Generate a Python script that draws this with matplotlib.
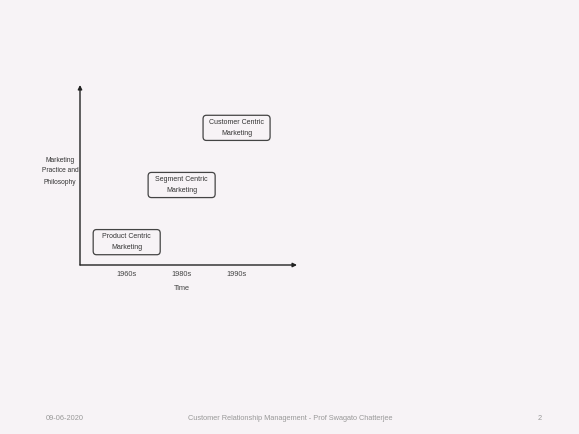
import matplotlib.pyplot as plt
from matplotlib.patches import FancyBboxPatch

# data
eras = ["1960s", "1980s", "1990s"]
stages = ["Product Centric\nMarketing", "Segment Centric\nMarketing", "Customer Centric\nMarketing"]
levels = [1, 2, 3]
footer_date = "09-06-2020"
footer_title = "Customer Relationship Management - Prof Swagato Chatterjee"
slide_no = "2"

bg = '#f7f3f6'
font = ['Liberation Sans Narrow', 'Liberation Sans', 'DejaVu Sans']

fig = plt.figure(figsize=(5.79, 4.34), dpi=100, facecolor=bg)
W, H = 579, 434

# axes placed in slide pixel coords
left, right, bottom, top = 80, 297, 265, 85
ax = fig.add_axes([left / W, 1 - bottom / H, (right - left) / W, (bottom - top) / H])
ax.set_facecolor('none')
x0, x1 = 0.15, 4.1
ax.set_xlim(x0, x1)
ax.set_ylim(0.6, 3.75)
for s in ax.spines.values():
    s.set_visible(False)

# arrow axes
arrow = dict(arrowstyle='-|>', color='#222222', lw=1.0, mutation_scale=6, shrinkA=0, shrinkB=0)
ax.annotate('', xy=(x1, 0.6), xytext=(x0, 0.6), arrowprops=arrow)
ax.annotate('', xy=(x0, 3.75), xytext=(x0, 0.6), arrowprops=arrow)

ax.set_xticks(range(1, len(eras) + 1))
ax.set_xticklabels(eras, fontsize=5.3, family=font, color='#444444')
ax.tick_params(axis='x', length=0, pad=4)
ax.set_yticks([])
ax.set_xlabel("Time", fontsize=5.3, family=font, color='#444444', labelpad=5)
ax.xaxis.label.set_x((2 - x0) / (x1 - x0))  # centred under the middle era

bw, bh = 1.22, 0.44
for i, (label, lev) in enumerate(zip(stages, levels)):
    x = i + 1
    box = FancyBboxPatch((x - bw / 2, lev - bh / 2), bw, bh,
                         boxstyle='round,pad=0,rounding_size=0.06',
                         mutation_aspect=57 / 55,
                         fc='none', ec='#444444', lw=0.9)
    ax.add_patch(box)
    ax.text(x, lev, label, ha='center', va='center', fontsize=5,
            family=font, color='#333333', linespacing=1.7)

fig.text(60 / W, 1 - 171 / H, "Marketing\nPractice and\nPhilosophy", ha='center', va='center',
         fontsize=4.8, family=font, color='#333333', linespacing=1.8)

# footer
fig.text(65 / W, 1 - 419 / H, footer_date, ha='center', va='center', fontsize=5.3,
         family=font, color='#999999')
fig.text(290 / W, 1 - 419 / H, footer_title, ha='center', va='center', fontsize=5.3,
         family=font, color='#999999')
fig.text(540 / W, 1 - 419 / H, slide_no, ha='center', va='center', fontsize=5.3,
         family=font, color='#999999')

fig.savefig('out.png', dpi=100, facecolor=bg)
